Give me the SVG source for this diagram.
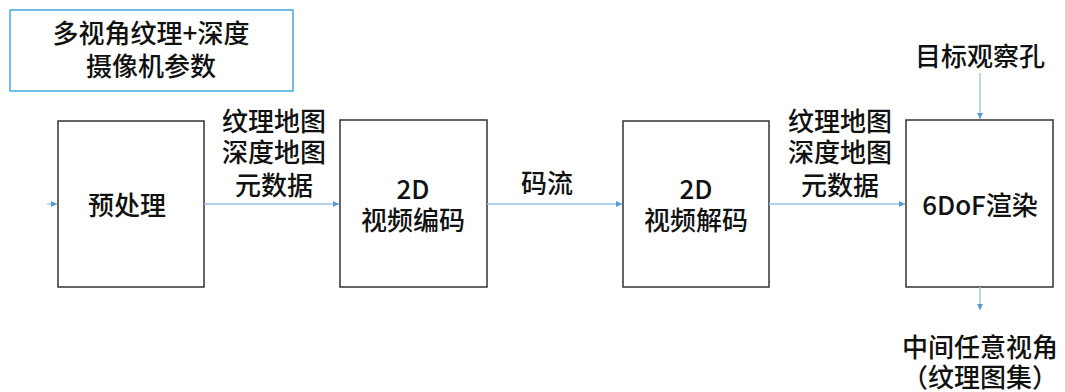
<svg xmlns="http://www.w3.org/2000/svg" width="1065" height="392" viewBox="0 0 1065 392">
<defs>
<marker id="ah" markerWidth="8" markerHeight="8" refX="6" refY="3" orient="auto" markerUnits="userSpaceOnUse">
<path d="M0,0 L6,3 L0,6 Z" fill="#5b9bd5"/>
</marker>
<style>
.box{fill:#fff;stroke:#333;stroke-width:1.5}
.ibox{fill:#fff;stroke:#41a9dc;stroke-width:1.5}
.t{font-family:"Noto Sans CJK SC","Noto Sans",sans-serif;font-size:26px;font-weight:500;fill:#111;text-anchor:middle}
.c{stroke:#9cc2e5;stroke-width:1.3;fill:none;marker-end:url(#ah)}
</style>
</defs>
<rect width="1065" height="392" fill="#fff"/>
<g id="input">
<rect class="ibox" x="10" y="10" width="283" height="81"/>
<text class="t" x="151" y="43">多视角纹理+深度</text>
<text class="t" x="151" y="76">摄像机参数</text>
</g>
<g id="preprocess">
<rect class="box" x="58" y="121" width="146" height="166"/>
<text class="t" x="127" y="215">预处理</text>
</g>
<g id="encode">
<rect class="box" x="340" y="120" width="147" height="167"/>
<text class="t" x="413" y="199">2D</text>
<text class="t" x="413" y="230">视频编码</text>
</g>
<g id="decode">
<rect class="box" x="623" y="121" width="146" height="166"/>
<text class="t" x="696" y="199">2D</text>
<text class="t" x="696" y="230">视频解码</text>
</g>
<g id="render">
<rect class="box" x="906" y="120" width="147" height="167"/>
<text class="t" x="980" y="215">6DoF渲染</text>
</g>
<g id="connectors">
<line class="c" x1="47" y1="204" x2="57" y2="204"/>
<line class="c" x1="204" y1="204" x2="339" y2="204"/>
<line class="c" x1="487" y1="204" x2="622" y2="204"/>
<line class="c" x1="769" y1="204" x2="905" y2="204"/>
<line class="c" x1="980" y1="73" x2="980" y2="119"/>
<line class="c" x1="980" y1="287" x2="980" y2="310"/>
</g>
<g id="labels">
<text class="t" x="274" y="131">纹理地图</text>
<text class="t" x="274" y="162">深度地图</text>
<text class="t" x="274" y="195">元数据</text>
<text class="t" x="547" y="193">码流</text>
<text class="t" x="840" y="131">纹理地图</text>
<text class="t" x="840" y="162">深度地图</text>
<text class="t" x="840" y="195">元数据</text>
<text class="t" x="980" y="66">目标观察孔</text>
<text class="t" x="980" y="357">中间任意视角</text>
<text class="t" x="980" y="387">（纹理图集）</text>
</g>
</svg>
